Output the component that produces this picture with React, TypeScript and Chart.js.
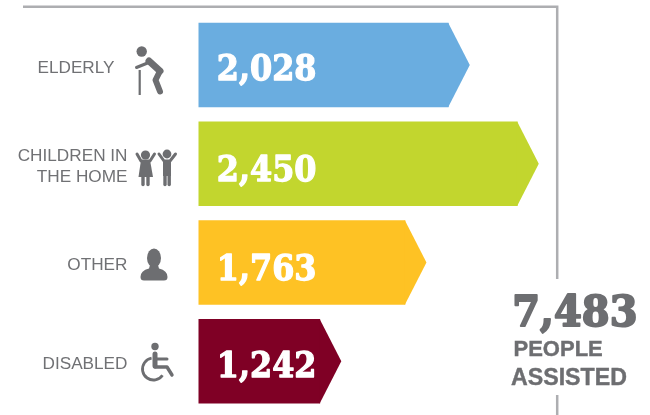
import React, { useEffect, useRef } from "react";
import { Chart, registerables } from "chart.js";

Chart.register(...registerables);

const categories = [["ELDERLY", ""], ["CHILDREN IN", "THE HOME"], ["OTHER", ""], ["DISABLED", ""]];
const peopleServed = [2028, 2450, 1763, 1242];
const barColors = ["#6aade0", "#c2d62e", "#fec224", "#7f0025"];
const totalCaption = ["PEOPLE", "ASSISTED"];
const valueNudge = [1.5, 4, 4.5, 2.5];

const GREY = "#6d6e71";
const FRAME = "#adaeb1";
const TIP = 21.5;
const fmt = (v: number) => v.toLocaleString("en-US");

function squeezed(ctx: any, text: string, rightX: number, midY: number, size: number, sx: number, color: string, bold: number) {
  ctx.save();
  ctx.translate(rightX, midY);
  ctx.scale(sx, 1);
  ctx.font = `bold ${size}px "DejaVu Serif"`;
  ctx.textAlign = "right";
  ctx.textBaseline = "alphabetic";
  ctx.fillStyle = color;
  ctx.strokeStyle = color;
  ctx.lineWidth = bold;
  ctx.lineJoin = "round";
  ctx.strokeText(text, 0, size * 0.365);
  ctx.fillText(text, 0, size * 0.365);
  ctx.restore();
}

function stroke(ctx: any, w: number, pts: number[][]) {
  ctx.lineWidth = w;
  ctx.beginPath();
  pts.forEach((p, i) => (i ? ctx.lineTo(p[0], p[1]) : ctx.moveTo(p[0], p[1])));
  ctx.stroke();
}
function dot(ctx: any, x: number, y: number, r: number) {
  ctx.beginPath();
  ctx.arc(x, y, r, 0, Math.PI * 2);
  ctx.fill();
}
function poly(ctx: any, pts: number[][]) {
  ctx.beginPath();
  pts.forEach((p, i) => (i ? ctx.lineTo(p[0], p[1]) : ctx.moveTo(p[0], p[1])));
  ctx.closePath();
  ctx.fill();
}

function drawIcons(ctx: any) {
  ctx.save();
  ctx.fillStyle = GREY;
  ctx.strokeStyle = GREY;
  ctx.lineCap = "round";
  ctx.lineJoin = "round";
  // elderly
  dot(ctx, 141.7, 51.5, 5.2);
  stroke(ctx, 7, [[149, 61], [160, 71]]);
  stroke(ctx, 3, [[150, 62], [136.5, 67.5]]);
  stroke(ctx, 6, [[160, 71], [155.5, 80], [160, 91.5]]);
  ctx.lineCap = "butt";
  stroke(ctx, 2.2, [[139.7, 70], [139.7, 95]]);
  ctx.lineCap = "round";
  // girl
  dot(ctx, 145.5, 155, 4.6);
  stroke(ctx, 3, [[137, 154], [141, 161], [150, 161], [154.5, 154]]);
  poly(ctx, [[141, 160], [150, 160], [153, 177], [138.5, 177]]);
  stroke(ctx, 3.4, [[143, 177], [143, 184.5]]);
  stroke(ctx, 3.4, [[148, 177], [148, 184.5]]);
  // boy
  dot(ctx, 167, 154, 4.4);
  stroke(ctx, 3, [[159, 154], [164, 161], [170, 161], [175.5, 154]]);
  poly(ctx, [[163, 160], [171, 160], [171, 176], [163, 176]]);
  stroke(ctx, 3.4, [[165, 175], [165, 184.5]]);
  stroke(ctx, 3.4, [[169.2, 175], [169.2, 184.5]]);
  // other
  ctx.beginPath();
  ctx.ellipse(154, 258, 7, 9.5, 0, 0, Math.PI * 2);
  ctx.fill();
  ctx.beginPath();
  ctx.moveTo(150, 265);
  ctx.lineTo(158, 265);
  ctx.lineTo(159, 268.5);
  ctx.quadraticCurveTo(167.5, 270.5, 167.5, 277);
  ctx.quadraticCurveTo(167.5, 280.5, 164, 280.5);
  ctx.lineTo(144, 280.5);
  ctx.quadraticCurveTo(140.5, 280.5, 140.5, 277);
  ctx.quadraticCurveTo(140.5, 270.5, 149, 268.5);
  ctx.closePath();
  ctx.fill();
  // disabled
  dot(ctx, 155, 346.5, 3.7);
  stroke(ctx, 5, [[155, 354], [155, 366]]);
  stroke(ctx, 3, [[155, 359], [167, 359]]);
  stroke(ctx, 3.4, [[155, 367], [167, 367], [172, 375]]);
  ctx.lineCap = "butt";
  ctx.lineWidth = 2.8;
  ctx.beginPath();
  ctx.arc(153.5, 369, 11, (-100 * Math.PI) / 180, (35 * Math.PI) / 180, true);
  ctx.stroke();
  ctx.restore();
}

const arrowPlugin = {
  id: "arrows",
  beforeDatasetsDraw(chart: any) {
    const ctx = chart.ctx;
    ctx.save();
    ctx.strokeStyle = FRAME;
    ctx.lineWidth = 2.5;
    ctx.beginPath();
    ctx.moveTo(23, 6.7);
    ctx.lineTo(557.2, 6.7);
    ctx.lineTo(557.2, 279);
    ctx.moveTo(557.2, 395);
    ctx.lineTo(557.2, 415);
    ctx.stroke();
    ctx.restore();
  },
  afterDatasetsDraw(chart: any) {
    const ctx = chart.ctx;
    const meta = chart.getDatasetMeta(0);
    meta.data.forEach((bar: any, i: number) => {
      const half = bar.height / 2;
      ctx.fillStyle = barColors[i];
      ctx.beginPath();
      ctx.moveTo(bar.x - 0.5, bar.y - half);
      ctx.lineTo(bar.x, bar.y - half);
      ctx.lineTo(bar.x + TIP, bar.y);
      ctx.lineTo(bar.x, bar.y + half);
      ctx.lineTo(bar.x - 0.5, bar.y + half);
      ctx.closePath();
      ctx.fill();
      squeezed(ctx, fmt(peopleServed[i]), 316.5, bar.y + valueNudge[i], 36, 0.885, "#ffffff", 1.3);
    });
    drawIcons(ctx);
    const total = peopleServed.reduce((a, b) => a + b, 0);
    squeezed(ctx, fmt(total), 637.5, 310, 43, 0.93, GREY, 2);
    ctx.save();
    ctx.fillStyle = GREY;
    ctx.strokeStyle = GREY;
    ctx.lineWidth = 0.4;
    ctx.textAlign = "left";
    ctx.textBaseline = "alphabetic";
    ctx.font = 'bold 22px "Liberation Sans"';
    ctx.fillText(totalCaption[0], 513.5, 356);
    ctx.strokeText(totalCaption[0], 513.5, 356);
    ctx.font = 'bold 23.2px "Liberation Sans"';
    ctx.fillText(totalCaption[1], 511, 384.5);
    ctx.strokeText(totalCaption[1], 511, 384.5);
    ctx.restore();
  },
};

export default function App() {
  const ref = useRef<HTMLCanvasElement>(null);
  useEffect(() => {
    const chart = new Chart(ref.current as HTMLCanvasElement, {
      type: "bar",
      plugins: [arrowPlugin],
      data: {
        labels: categories.map((c) => (c[1] ? c : c[0])) as any,
        datasets: [{ data: peopleServed, backgroundColor: barColors, borderWidth: 0, barThickness: 84 }],
      },
      options: {
        indexAxis: "y",
        animation: false,
        responsive: false,
        events: [],
        layout: { padding: { top: 15.6, bottom: 4.4, right: 93, left: 0 } },
        plugins: { legend: { display: false }, tooltip: { enabled: false } },
        scales: {
          x: { display: false, min: 500, max: 2693, grid: { display: false } },
          y: {
            afterFit: (s: any) => {
              s.width = 198.5;
              s.paddingTop = 0;
              s.paddingBottom = 0;
            },
            grid: { display: false, drawTicks: false },
            border: { display: false },
            ticks: {
              color: "#707174",
              padding: 71,
              labelOffset: 3,
              autoSkip: false,
              font: { family: '"Liberation Sans"', size: 17.2, lineHeight: 1.17 },
              callback: function (this: any, _v: any, i: number) {
                const c = categories[i];
                return c[1] ? c : i === 0 ? c[0] + "  \u2009" : c[0];
              },
            },
          },
        },
      } as any,
    });
    return () => chart.destroy();
  }, []);
  return (
    <canvas
      ref={ref}
      width={650}
      height={415}
      style={{ position: "fixed", left: 0, top: 0, width: 650, height: 415, background: "#fff" }}
    />
  );
}
